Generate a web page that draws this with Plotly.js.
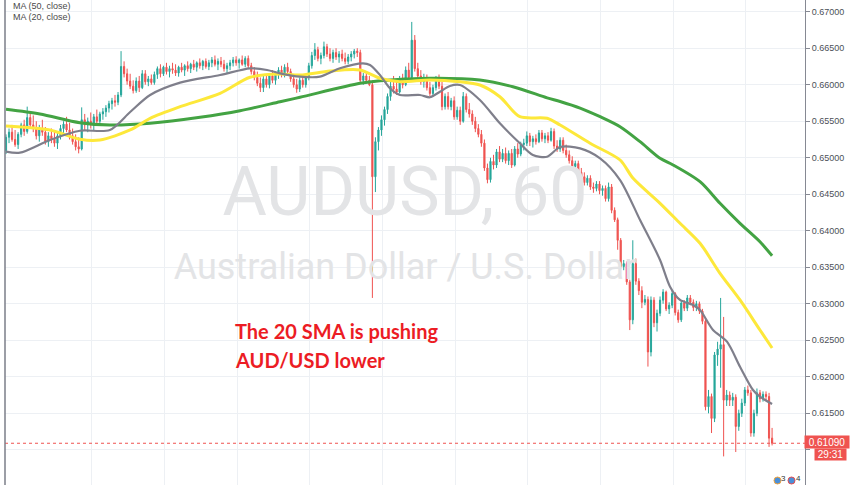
<!DOCTYPE html>
<html>
<head>
<meta charset="utf-8">
<script src="https://cdn.plot.ly/plotly-3.0.1.min.js"></script>
<style>
  html, body { margin: 0; padding: 0; background: #ffffff; }
  #chart { width: 852px; height: 485px; }
</style>
</head>
<body>
<div id="chart"></div>
<script>
// ---------------- DATA ----------------
const symbolTitle = "AUDUSD, 60";
const symbolSubtitle = "Australian Dollar / U.S. Dollar";
const legendLabels = ["MA (50, close)", "MA (20, close)"];
const noteLines = ["The 20 SMA is pushing", "AUD/USD lower"];
const lastPriceLabel = "0.61090";
const lastPrice = 0.6109;
const countdownLabel = "29:31";
const priceTicks = [0.605, 0.610, 0.615, 0.620, 0.625, 0.630, 0.635, 0.640, 0.645, 0.650, 0.655, 0.660, 0.665, 0.670];
const priceTickText = ["0.60500", "", "0.61500", "0.62000", "0.62500", "0.63000", "0.63500", "0.64000", "0.64500", "0.65000", "0.65500", "0.66000", "0.66500", "0.67000"];

const openPrices = [
.6510,.6528,.6535,.6525,.6518,.6532,.6545,.6536,.6555,.6545,
.6540,.6530,.6540,.6535,.6522,.6530,.6526,.6520,.6530,.6540,
.6546,.6538,.6530,.6522,.6515,.6512,.6552,.6545,.6550,.6545,
.6556,.6550,.6560,.6563,.6568,.6574,.6578,.6576,.6586,.6625,
.6615,.6605,.6598,.6592,.6605,.6596,.6615,.6604,.6608,.6603,
.6614,.6622,.6615,.6624,.6618,.6622,.6620,.6616,.6624,.6620,
.6626,.6622,.6628,.6624,.6630,.6626,.6632,.6625,.6630,.6634,
.6628,.6632,.6628,.6622,.6626,.6630,.6634,.6630,.6634,.6628,
.6636,.6626,.6618,.6610,.6602,.6596,.6608,.6600,.6612,.6606,
.6615,.6620,.6614,.6624,.6618,.6608,.6600,.6594,.6606,.6600,
.6610,.6626,.6640,.6648,.6636,.6640,.6652,.6642,.6636,.6644,
.6638,.6642,.6636,.6632,.6638,.6642,.6646,.6644,.6606,.6612,
.6606,.6600,.6474,.6522,.6538,.6552,.6566,.6584,.6598,.6594,
.6590,.6608,.6600,.6620,.6610,.6661,.6622,.6612,.6604,.6610,
.6596,.6588,.6596,.6609,.6598,.6570,.6584,.6570,.6578,.6556,
.6565,.6550,.6584,.6566,.6560,.6550,.6540,.6532,.6520,.6486,
.6470,.6495,.6490,.6508,.6498,.6506,.6496,.6506,.6490,.6512,
.6505,.6518,.6520,.6530,.6522,.6526,.6522,.6534,.6526,.6530,
.6524,.6536,.6516,.6512,.6524,.6510,.6504,.6496,.6488,.6492,
.6480,.6474,.6466,.6472,.6460,.6458,.6464,.6455,.6458,.6444,
.6460,.6428,.6415,.6387,.6351,.6355,.6330,.6278,.6355,.6331,
.6318,.6302,.6306,.6234,.6305,.6274,.6287,.6305,.6316,.6293,
.6298,.6314,.6288,.6278,.6301,.6294,.6308,.6302,.6295,.6300,
.6290,.6276,.6159,.6173,.6143,.6230,.6238,.6244,.6168,.6175,
.6168,.6172,.6132,.6150,.6164,.6182,.6178,.6123,.6150,.6178,
.6170,.6176,.6173,.6116
];
const highPrices = [
.6532,.6540,.6545,.6538,.6535,.6548,.6552,.6570,.6562,.6558,
.6550,.6545,.6552,.6542,.6535,.6540,.6538,.6535,.6545,.6550,
.6556,.6548,.6540,.6532,.6528,.6569,.6560,.6555,.6562,.6560,
.6566,.6563,.6568,.6572,.6578,.6582,.6586,.6590,.6646,.6632,
.6622,.6615,.6606,.6610,.6612,.6620,.6620,.6612,.6614,.6618,
.6625,.6628,.6626,.6630,.6626,.6630,.6628,.6626,.6630,.6628,
.6632,.6630,.6634,.6632,.6636,.6634,.6636,.6634,.6638,.6640,
.6636,.6638,.6634,.6630,.6634,.6638,.6639,.6636,.6640,.6639,
.6640,.6630,.6624,.6618,.6610,.6612,.6614,.6615,.6620,.6618,
.6624,.6626,.6628,.6630,.6622,.6614,.6608,.6610,.6612,.6614,
.6630,.6645,.6657,.6652,.6644,.6659,.6656,.6650,.6648,.6650,
.6646,.6648,.6644,.6642,.6646,.6649,.6650,.6648,.6616,.6616,
.6612,.6606,.6528,.6542,.6558,.6570,.6588,.6604,.6612,.6606,
.6612,.6615,.6625,.6630,.6686,.6668,.6630,.6620,.6615,.6614,
.6604,.6600,.6612,.6614,.6604,.6588,.6590,.6582,.6584,.6570,
.6570,.6590,.6588,.6575,.6565,.6556,.6546,.6538,.6525,.6492,
.6500,.6504,.6512,.6516,.6512,.6514,.6510,.6512,.6516,.6520,
.6522,.6526,.6536,.6534,.6530,.6532,.6538,.6538,.6534,.6535,
.6541,.6540,.6524,.6528,.6528,.6518,.6510,.6502,.6496,.6496,
.6486,.6480,.6476,.6476,.6466,.6468,.6468,.6462,.6462,.6466,
.6464,.6432,.6418,.6390,.6360,.6358,.6333,.6387,.6362,.6335,
.6324,.6312,.6310,.6310,.6309,.6292,.6310,.6320,.6318,.6302,
.6318,.6316,.6292,.6305,.6305,.6312,.6312,.6306,.6304,.6303,
.6293,.6279,.6182,.6177,.6234,.6248,.6308,.6282,.6182,.6180,
.6178,.6176,.6155,.6170,.6186,.6188,.6182,.6155,.6184,.6182,
.6180,.6180,.6178,.6130
];
const lowPrices = [
.6505,.6520,.6522,.6515,.6512,.6528,.6530,.6533,.6540,.6535,
.6525,.6522,.6530,.6518,.6515,.6520,.6515,.6512,.6525,.6532,
.6535,.6525,.6518,.6510,.6506,.6510,.6538,.6535,.6540,.6538,
.6545,.6546,.6552,.6556,.6562,.6566,.6570,.6572,.6583,.6610,
.6600,.6594,.6588,.6589,.6590,.6594,.6600,.6598,.6600,.6600,
.6608,.6610,.6612,.6614,.6610,.6615,.6612,.6611,.6617,.6612,
.6618,.6616,.6620,.6618,.6622,.6620,.6622,.6620,.6624,.6625,
.6620,.6624,.6618,.6615,.6620,.6625,.6626,.6622,.6626,.6624,
.6622,.6614,.6606,.6598,.6590,.6590,.6596,.6595,.6602,.6600,
.6608,.6610,.6610,.6614,.6604,.6596,.6589,.6590,.6596,.6596,
.6606,.6622,.6634,.6632,.6628,.6636,.6638,.6632,.6630,.6634,
.6630,.6632,.6628,.6628,.6632,.6636,.6638,.6602,.6600,.6602,
.6598,.6308,.6453,.6510,.6530,.6544,.6560,.6578,.6588,.6586,
.6588,.6595,.6598,.6605,.6606,.6618,.6608,.6600,.6596,.6592,
.6584,.6584,.6592,.6594,.6565,.6566,.6566,.6565,.6552,.6552,
.6545,.6548,.6562,.6555,.6545,.6535,.6528,.6515,.6482,.6465,
.6466,.6484,.6486,.6494,.6494,.6492,.6490,.6486,.6488,.6500,
.6502,.6510,.6516,.6516,.6514,.6518,.6520,.6522,.6520,.6520,
.6522,.6512,.6508,.6508,.6506,.6500,.6492,.6484,.6482,.6476,
.6470,.6462,.6462,.6456,.6452,.6454,.6450,.6448,.6440,.6440,
.6424,.6412,.6374,.6348,.6346,.6326,.6264,.6272,.6326,.6312,
.6294,.6298,.6214,.6228,.6268,.6262,.6283,.6300,.6290,.6286,
.6294,.6284,.6274,.6275,.6290,.6290,.6298,.6290,.6290,.6286,
.6272,.6154,.6150,.6123,.6138,.6215,.6185,.6091,.6160,.6160,
.6160,.6097,.6126,.6145,.6160,.6174,.6118,.6118,.6146,.6165,
.6166,.6168,.6104,.6106
];
const closePrices = [
.6528,.6535,.6525,.6518,.6532,.6545,.6536,.6555,.6545,.6540,
.6530,.6540,.6535,.6522,.6530,.6526,.6520,.6530,.6540,.6546,
.6538,.6530,.6522,.6515,.6512,.6552,.6545,.6550,.6545,.6556,
.6550,.6560,.6563,.6568,.6574,.6578,.6576,.6586,.6625,.6615,
.6605,.6598,.6592,.6605,.6596,.6615,.6604,.6608,.6603,.6614,
.6622,.6615,.6624,.6618,.6622,.6620,.6616,.6624,.6620,.6626,
.6622,.6628,.6624,.6630,.6626,.6632,.6625,.6630,.6634,.6628,
.6632,.6628,.6622,.6626,.6630,.6634,.6630,.6634,.6628,.6636,
.6626,.6618,.6610,.6602,.6596,.6608,.6600,.6612,.6606,.6615,
.6620,.6614,.6624,.6618,.6608,.6600,.6594,.6606,.6600,.6610,
.6626,.6640,.6648,.6636,.6640,.6652,.6642,.6636,.6644,.6638,
.6642,.6636,.6632,.6638,.6642,.6646,.6644,.6606,.6612,.6606,
.6600,.6474,.6522,.6538,.6552,.6566,.6584,.6598,.6594,.6590,
.6608,.6600,.6620,.6610,.6661,.6622,.6612,.6604,.6610,.6596,
.6588,.6596,.6609,.6598,.6570,.6584,.6570,.6578,.6556,.6565,
.6550,.6584,.6566,.6560,.6550,.6540,.6532,.6520,.6486,.6470,
.6495,.6490,.6508,.6498,.6506,.6496,.6506,.6490,.6512,.6505,
.6518,.6520,.6530,.6522,.6526,.6522,.6534,.6526,.6530,.6524,
.6536,.6516,.6512,.6524,.6510,.6504,.6496,.6488,.6492,.6480,
.6474,.6466,.6472,.6460,.6458,.6464,.6455,.6458,.6444,.6460,
.6428,.6415,.6387,.6351,.6355,.6330,.6278,.6355,.6331,.6318,
.6302,.6306,.6234,.6305,.6274,.6287,.6305,.6316,.6293,.6298,
.6314,.6288,.6278,.6301,.6294,.6308,.6302,.6295,.6300,.6290,
.6276,.6159,.6173,.6143,.6230,.6238,.6244,.6168,.6175,.6168,
.6172,.6132,.6150,.6164,.6182,.6178,.6123,.6150,.6178,.6170,
.6176,.6173,.6116,.6109
];

// Moving averages, sampled along the lines (bar index, price)
const maLongIdx = [0,11.2,24.4,34.3,47.6,64.1,77.3,90.5,97.1,116.9,123.5,140,156.5,167.4,178.7,183,189.6,196.2,202.8,209.4,216,220.3,229.2,235.8,242.4,249,253];
const maLongVal = [.65663,.65599,.65480,.65448,.65472,.65554,.65644,.65767,.65828,.66019,.66055,.66088,.66065,.65973,.65820,.65770,.65680,.65562,.65425,.65220,.64992,.64901,.64672,.64376,.64102,.63850,.63658];

const ma50Idx = [0,14.5,24.4,31,41,47.6,57.5,70.7,80.6,90.5,97.1,107,116.9,123.5,130.1,140,149.9,156.5,163.1,169.7,178.7,183,192.9,202.8,207.1,216,222.6,229.2,235.8,242.4,249,253];
const ma50Val = [.65435,.65380,.65253,.65243,.65380,.65540,.65699,.65882,.66102,.66147,.66133,.66188,.66202,.66088,.66041,.66065,.66041,.65996,.65836,.65562,.65540,.65448,.65198,.64969,.64718,.64376,.64102,.63828,.63417,.63052,.62641,.62394];

const ma20Idx = [0,4.6,14.5,24.4,34.3,41,47.6,57.5,70.7,80.6,86.2,90.5,97.1,103.7,110.3,117.9,120.2,123.5,126.8,130.1,136.7,140,143.3,146.6,149.9,156.5,163.1,169.7,174,178.7,183,189.6,196.2,202.8,209.4,216,219.3,222.6,226.9,229.2,233.5,238.1,242.4,246.7,249,253];
const ma20Val = [.65083,.65069,.65243,.65370,.65380,.65626,.65859,.66028,.66133,.66225,.66202,.66156,.66110,.66110,.66225,.66293,.66270,.66133,.65951,.65859,.65859,.65828,.65904,.65982,.65996,.65791,.65472,.65198,.65038,.65014,.65147,.65129,.64992,.64695,.64147,.63600,.63234,.63052,.62983,.62915,.62641,.62481,.62138,.61819,.61727,.61627];

// ---------------- LAYOUT CONSTANTS ----------------
const W = 852, H = 485;
const ML = 5, MR = 47;
const xRange = [-0.33, 263.87];
const yRange = [0.605183, 0.671602];
const gridX = [28.3, 52.3, 76.3, 100.3, 124.3, 148.3, 172.3, 196.3, 220.3, 244.3];
const pxToPrice = py => yRange[1] - py * (yRange[1] - yRange[0]) / H;
const pxToPaperX = px => (px - ML) / (W - ML - MR);
const pxToPaperY = py => 1 - py / H;

const barIdx = closePrices.map((_, i) => i);
const UP = '#26a69a', DOWN = '#ef5350';

const traces = [
  { // watermark (behind everything)
    type: 'scatter', mode: 'text', x: [(xRange[0] + xRange[1]) / 2], y: [pxToPrice(198)],
    text: [symbolTitle], textposition: 'middle center', cliponaxis: false,
    textfont: { family: 'Roboto, sans-serif', size: 68, color: '#e3e4e6' }, hoverinfo: 'skip', showlegend: false
  },
  {
    type: 'scatter', mode: 'text', x: [(xRange[0] + xRange[1]) / 2], y: [pxToPrice(270)],
    text: [symbolSubtitle], textposition: 'middle center', cliponaxis: false,
    textfont: { family: 'Roboto, sans-serif', size: 36, color: '#e3e4e6' }, hoverinfo: 'skip', showlegend: false
  },
  {
    type: 'candlestick', x: barIdx, open: openPrices, high: highPrices, low: lowPrices, close: closePrices,
    increasing: { line: { color: UP, width: 1 }, fillcolor: UP },
    decreasing: { line: { color: DOWN, width: 1 }, fillcolor: DOWN },
    whiskerwidth: 0, hoverinfo: 'skip', showlegend: false
  },
  {
    type: 'scatter', mode: 'lines', x: maLongIdx, y: maLongVal,
    line: { color: '#43a343', width: 3, shape: 'spline', smoothing: 0.8 }, hoverinfo: 'skip', showlegend: false
  },
  {
    type: 'scatter', mode: 'lines', x: ma50Idx, y: ma50Val,
    line: { color: '#fde83a', width: 3, shape: 'spline', smoothing: 0.8 }, hoverinfo: 'skip', showlegend: false
  },
  {
    type: 'scatter', mode: 'lines', x: ma20Idx, y: ma20Val,
    line: { color: '#7f7f8b', width: 2.2, shape: 'spline', smoothing: 0.8 }, hoverinfo: 'skip', showlegend: false
  }
];

const annotations = [
  { xref: 'paper', yref: 'paper', x: pxToPaperX(11), y: pxToPaperY(6), xanchor: 'left', yanchor: 'middle',
    text: legendLabels[0], showarrow: false, font: { family: 'Liberation Sans, Arial, sans-serif', size: 9, color: '#4a4a4a' } },
  { xref: 'paper', yref: 'paper', x: pxToPaperX(11), y: pxToPaperY(17), xanchor: 'left', yanchor: 'middle',
    text: legendLabels[1], showarrow: false, font: { family: 'Liberation Sans, Arial, sans-serif', size: 9, color: '#4a4a4a' } },
  { xref: 'paper', yref: 'paper', x: pxToPaperX(233), y: pxToPaperY(331), xanchor: 'left', yanchor: 'middle',
    text: '<b>' + noteLines[0] + '</b>', showarrow: false, font: { family: 'Lato, sans-serif', size: 20, color: '#ec1c24' } },
  { xref: 'paper', yref: 'paper', x: pxToPaperX(233), y: pxToPaperY(360), xanchor: 'left', yanchor: 'middle',
    text: '<b>' + noteLines[1] + '</b>', showarrow: false, font: { family: 'Lato, sans-serif', size: 20, color: '#ec1c24' } },
  { xref: 'paper', yref: 'paper', x: pxToPaperX(804), y: pxToPaperY(442), xanchor: 'left', yanchor: 'middle',
    text: lastPriceLabel, showarrow: false, bgcolor: '#ef5350', borderpad: 1, width: 42, height: 10,
    font: { family: 'Liberation Sans, Arial, sans-serif', size: 10, color: '#ffffff' } },
  { xref: 'paper', yref: 'paper', x: pxToPaperX(847), y: pxToPaperY(454), xanchor: 'right', yanchor: 'middle',
    text: countdownLabel, showarrow: false, bgcolor: '#ef5350', borderpad: 1, width: 29, height: 9,
    font: { family: 'Liberation Sans, Arial, sans-serif', size: 10, color: '#ffffff' } },
  { xref: 'paper', yref: 'paper', x: pxToPaperX(783), y: pxToPaperY(478), xanchor: 'center', yanchor: 'middle',
    text: '3', showarrow: false, font: { family: 'Liberation Sans, Arial, sans-serif', size: 8, color: '#333' } },
  { xref: 'paper', yref: 'paper', x: pxToPaperX(798), y: pxToPaperY(478), xanchor: 'center', yanchor: 'middle',
    text: '4', showarrow: false, font: { family: 'Liberation Sans, Arial, sans-serif', size: 8, color: '#333' } }
];

const shapes = [
  { type: 'line', xref: 'paper', yref: 'y', x0: 0, x1: 1, y0: lastPrice, y1: lastPrice,
    line: { color: '#ef5350', width: 1, dash: 'dot' } },
  { type: 'line', xref: 'paper', yref: 'paper', x0: 0, x1: 0, y0: 0, y1: 1,
    line: { color: '#7b7e88', width: 1.5 } },
  { type: 'circle', xref: 'paper', yref: 'paper', x0: pxToPaperX(774), x1: pxToPaperX(781), y0: pxToPaperY(484), y1: pxToPaperY(477),
    fillcolor: '#4a8fd8', line: { color: '#f3a33a', width: 1 } },
  { type: 'circle', xref: 'paper', yref: 'paper', x0: pxToPaperX(788), x1: pxToPaperX(795), y0: pxToPaperY(484), y1: pxToPaperY(477),
    fillcolor: '#4a8fd8', line: { color: '#e94b4b', width: 1 } }
];

const layout = {
  width: W, height: H,
  margin: { l: ML, r: MR, t: 0, b: 0, pad: 0 },
  paper_bgcolor: '#ffffff', plot_bgcolor: '#ffffff',
  showlegend: false,
  boxgap: 0.45,
  xaxis: {
    range: xRange, tickvals: gridX, showticklabels: false, ticks: '',
    showgrid: true, gridcolor: '#edf0f4', gridwidth: 1, zeroline: false, showline: false,
    rangeslider: { visible: false }, fixedrange: true
  },
  yaxis: {
    side: 'right', range: yRange, tickvals: priceTicks, ticktext: priceTickText,
    showgrid: true, gridcolor: '#edf0f4', gridwidth: 1, zeroline: false,
    showline: true, linecolor: '#868993', linewidth: 1,
    ticks: 'outside', ticklen: 4, tickcolor: '#868993',
    tickfont: { family: 'Liberation Sans, Arial, sans-serif', size: 9, color: '#4c4f57' },
    fixedrange: true
  },
  annotations: annotations,
  shapes: shapes
};

Plotly.newPlot('chart', traces, layout, { staticPlot: true, displayModeBar: false });
</script>
</body>
</html>
